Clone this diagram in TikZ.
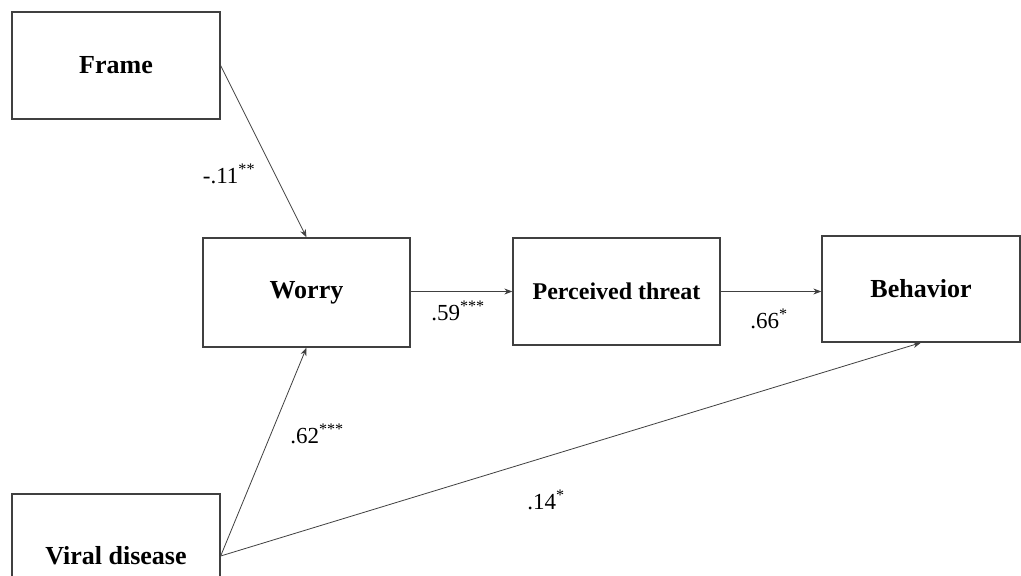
\documentclass[tikz,border=0pt]{standalone}
\usepackage{fontspec}
\setmainfont{Liberation Serif}
\usetikzlibrary{arrows.meta}
\begin{document}
\begin{tikzpicture}[x=1pt,y=-1pt,
  varbox/.style={draw=black!75,line width=1.3pt,fill=white,inner sep=0pt,
    font=\fontsize{26}{30}\selectfont\bfseries},
  path/.style={draw=black!75,line width=0.8pt,-{Stealth[length=8pt,width=6pt]}},
  coef/.style={font=\fontsize{23}{27}\selectfont,inner sep=0pt}]
  \fill[white] (0,0) rectangle (1021,576);
  \clip (0,0) rectangle (1021,576);
  \useasboundingbox (0,0) rectangle (1021,576);

  % variables
  \node[varbox,minimum width=208pt,minimum height=107pt] (frame) at (116,65.5) {Frame};
  \node[varbox,minimum width=207pt,minimum height=109pt] (worry) at (306.5,292.5) {Worry};
  \node[varbox,minimum width=207pt,minimum height=107pt,
        font=\fontsize{24}{28}\selectfont\bfseries] (threat) at (616.5,291.5) {Perceived threat};
  \node[varbox,minimum width=198pt,minimum height=106pt] (behav) at (921,289) {Behavior};
  \node[varbox,minimum width=208pt,minimum height=124pt] (viral) at (116,556) {Viral disease};

  % paths
  \draw[path] (frame.east) -- (worry.north);
  \draw[path] (worry.east |- threat.west) -- (threat.west);
  \draw[path] (threat.east) -- (threat.east -| behav.west);
  \draw[path] (viral.east) -- (worry.south);
  \draw[path] (viral.east) -- (behav.south);

  % coefficients
  \node[coef] (c1) at (229,174) {-.11\textsuperscript{**}};
  \node[coef] (c2) at (458,311) {.59\textsuperscript{***}};
  \node[coef] (c3) at (769,319) {.66\textsuperscript{*}};
  \node[coef] (c4) at (317,434) {.62\textsuperscript{***}};
  \node[coef] (c5) at (546,500) {.14\textsuperscript{*}};
\end{tikzpicture}
\end{document}
